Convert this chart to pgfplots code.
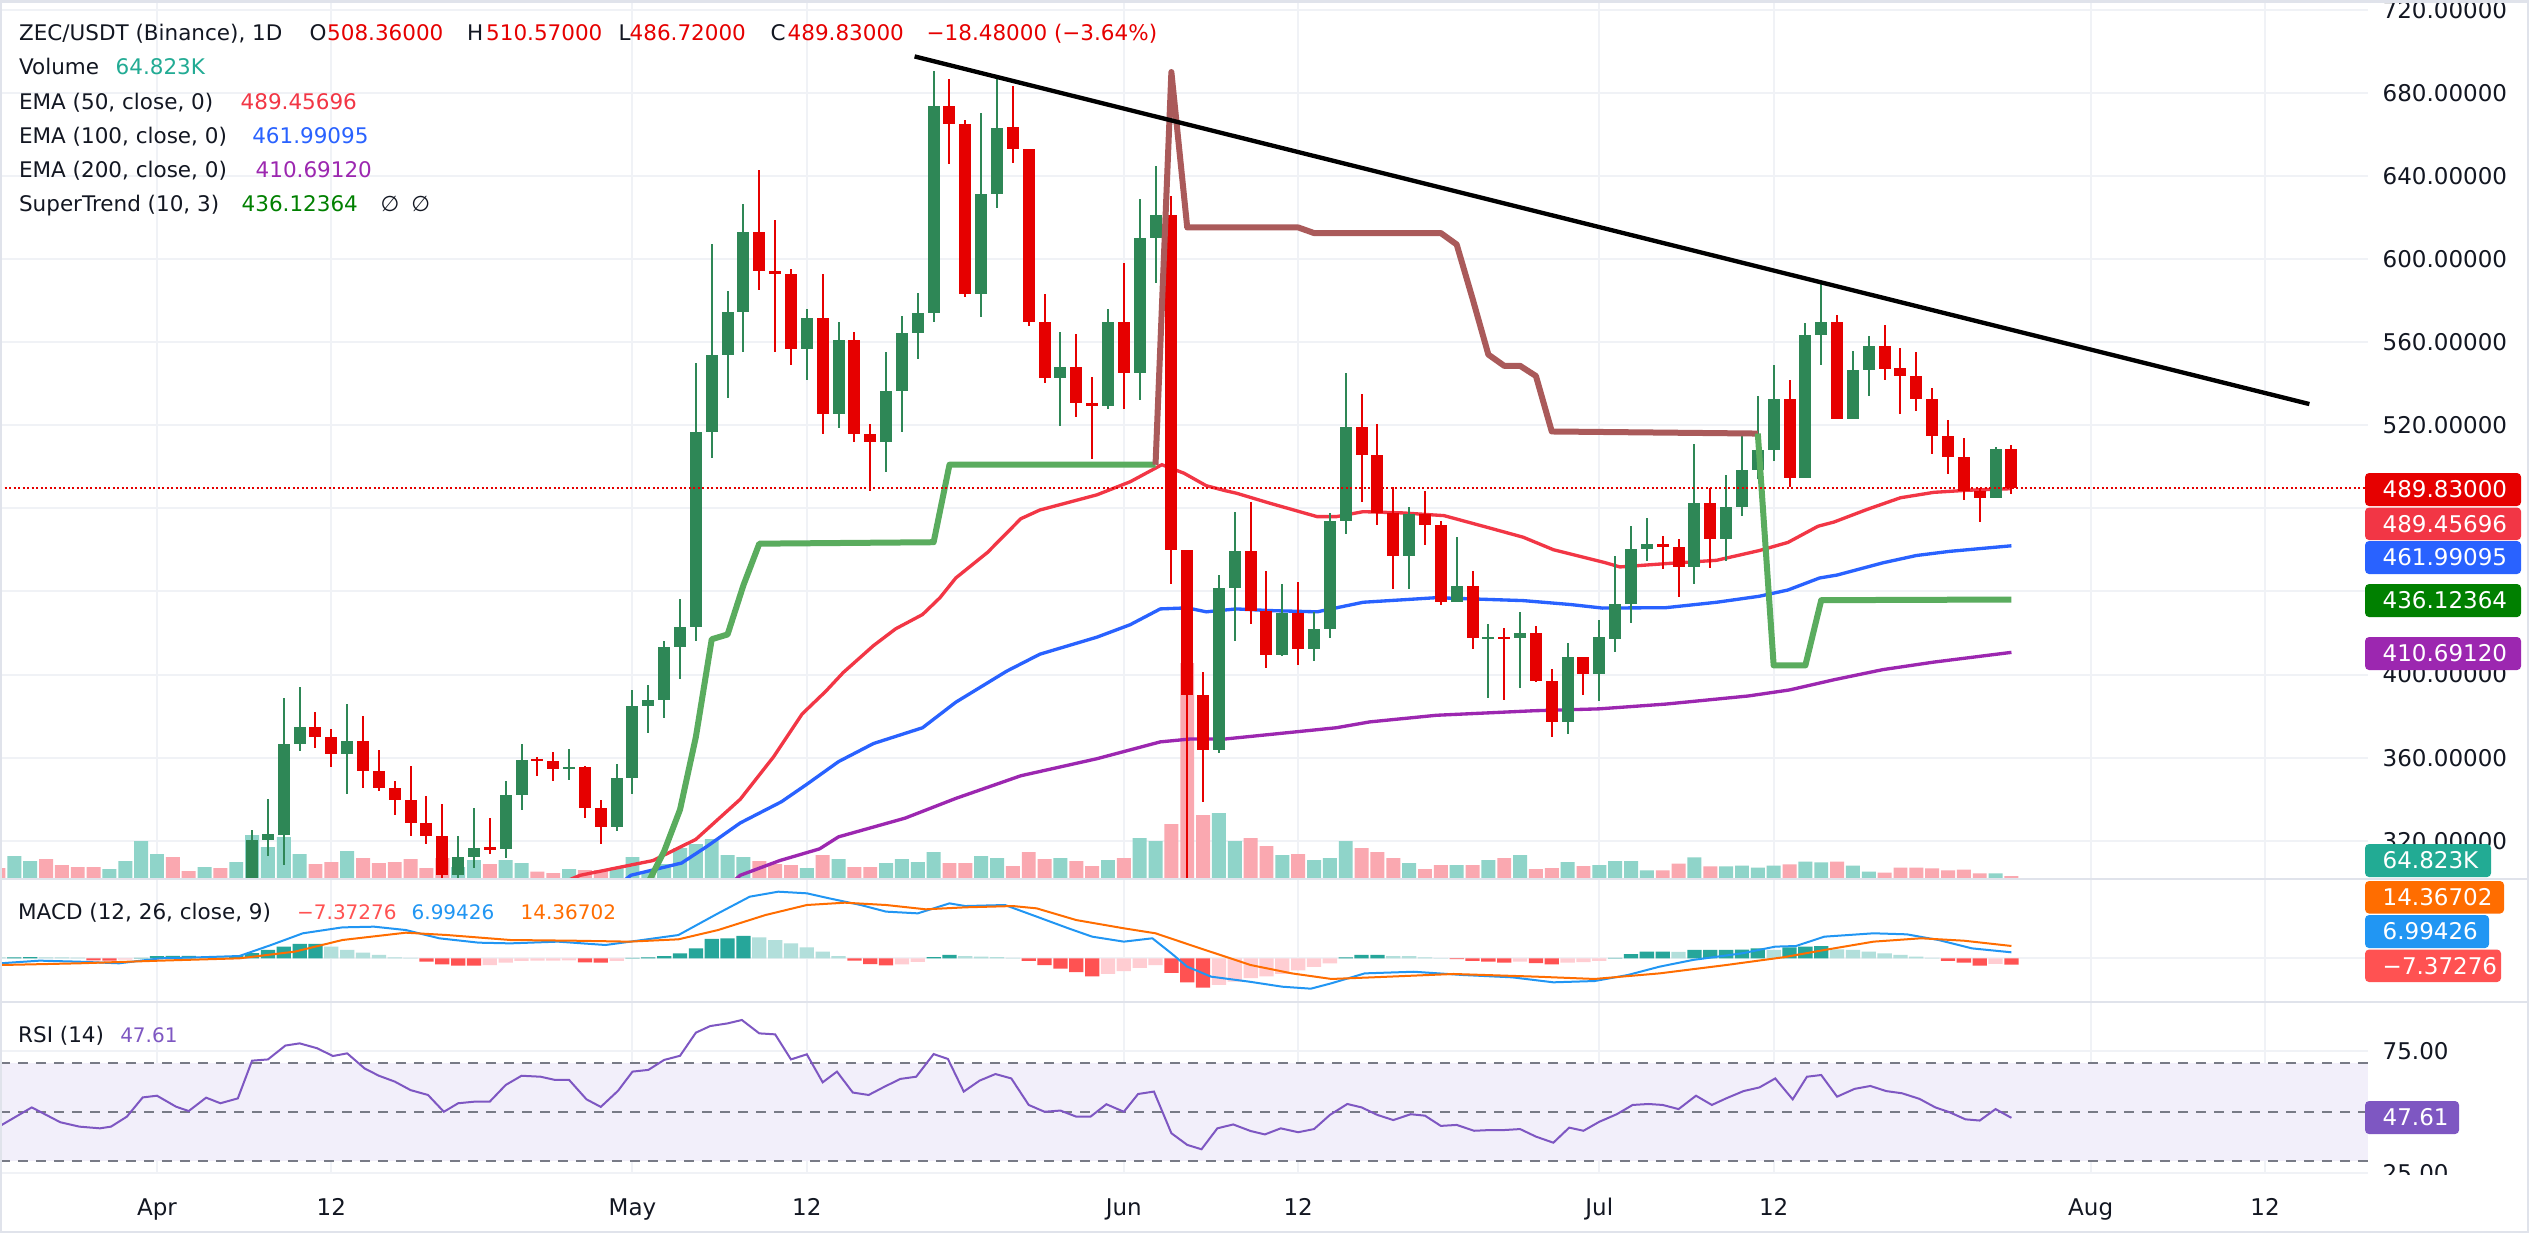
\documentclass[border=0pt]{standalone}
\usepackage{pgfplots}
\pgfplotsset{compat=1.18}
\usepackage{pgfplotstable}
\usepackage{fontspec}
\setmainfont{DejaVu Sans}
\newfontfamily\dvs{DejaVu Sans}
\newcommand\lf{\dvs\fontsize{6.45pt}{7.7pt}\selectfont}
\newcommand\smf{\dvs\fontsize{6.0pt}{7.2pt}\selectfont}
\newcommand\tf{\dvs\fontsize{6.9pt}{8.2pt}\selectfont}
\definecolor{txt}{RGB}{19,23,34}
\definecolor{cup}{RGB}{46,135,86}
\definecolor{cdn}{RGB}{230,0,0}
\definecolor{vup}{RGB}{143,212,201}
\definecolor{vdn}{RGB}{250,168,176}
\definecolor{ema50}{RGB}{242,54,69}
\definecolor{ema100}{RGB}{41,98,255}
\definecolor{ema200}{RGB}{156,39,176}
\definecolor{stup}{RGB}{90,172,94}
\definecolor{stdn}{RGB}{170,90,90}
\definecolor{stg}{RGB}{0,128,0}
\definecolor{gridc}{RGB}{240,242,246}
\definecolor{sepc}{RGB}{224,227,235}
\definecolor{macdc}{RGB}{33,150,243}
\definecolor{sigc}{RGB}{255,109,0}
\definecolor{hT}{RGB}{38,166,154}
\definecolor{ht}{RGB}{178,223,219}
\definecolor{hR}{RGB}{255,82,82}
\definecolor{hr}{RGB}{255,205,210}
\definecolor{rsic}{RGB}{126,87,194}
\definecolor{rsibg}{RGB}{242,239,250}
\definecolor{dashc}{RGB}{120,123,134}
\definecolor{volt}{RGB}{34,171,148}

\pgfplotstableread{
d O H L C
6 300 325 296 320.3
7 320.3 340 312.8 323.2
8 323 388.5 308.5 366.4
9 366.4 393.8 363.2 375
12 361.6 386 342.4 367.8
19 303.5 322.5 299 312.3
20 312.3 336 306.8 316.6
22 316 349 311.6 342.2
23 342.2 366.7 335 359
26 354.7 364.4 349.5 355.6
29 326.8 357 324.5 350.2
30 350.2 392.8 342.7 384.9
31 384.9 394.8 371.7 387.6
32 387.6 416.4 379 413.2
33 413.2 436.3 397.7 422.7
34 422.7 550.2 416 516.8
35 516.8 607.3 504 554
36 554 584.7 533.2 574.7
37 574.7 626.4 555.4 613
41 556.5 575.8 541.8 571.5
43 525.4 569.8 518.6 560.8
46 511.8 555.4 497.7 536.3
47 536.3 572.5 516.7 564.4
48 564.4 583.7 552.1 574.2
49 574.2 690.6 569.8 673.7
52 583.1 670.2 572.2 631.3
53 631.3 687.9 624.5 662.9
57 542.6 564.9 519.5 547.8
60 529.5 575.8 527.6 569.5
62 545 628.8 532.2 610.3
63 610.3 644.6 588.6 621.2
67 363.5 447.9 362.2 441.6
68 441.6 478.4 416.1 459.6
71 409.3 443.8 409 429.4
73 412.5 430.2 406.5 422
74 422 477.8 417.4 473.7
75 473.7 545.3 467.8 519.2
79 456.9 480.6 441.1 477.3
82 435.1 466.4 435.1 442.5
84 417.4 424.2 388.9 418
86 417.4 430.2 393.5 420.2
89 377.2 415.3 371.2 408.4
91 400.3 426.1 387.2 418
92 417 457 411 434
93 434 471.6 425 460.3
94 460.3 475.5 454.8 462.8
97 451.8 511.2 443.6 482.8
99 465.2 495.9 454.9 480.8
100 480.8 515.7 476.5 498.5
101 498.5 534.3 494 508.3
102 508.3 549 502.8 532.8
104 494.5 569 494.5 563.5
105 563.5 588.2 548.8 569.8
107 523 555.9 523 546.7
108 546.7 562.8 534.3 558.3
116 485 509.3 485 508.4
}\upc

\pgfplotstableread{
d O H L C
10 375 381.8 364.5 370
11 370 374 355.4 361.6
13 367.8 380.3 345.3 353.7
14 353.7 363.5 344 345.5
15 345.5 349 332.5 339.7
16 339.7 355.8 322.4 328.4
17 328.4 341.5 318.4 322.5
18 322.5 337.7 299 303.5
21 316.8 331 313.6 315.9
24 359.4 360.3 351.3 358.6
25 358.6 362.6 349 354.7
27 355.6 355.8 331 336
28 336 339.8 318.4 326.8
38 613 643 584.9 594
39 594 618.9 555.4 593
40 593 595 549 556.5
42 571.5 592.7 516 525.4
44 560.8 564.9 511.8 515.9
45 515.9 520.8 488.2 511.8
50 673.7 686.8 645.7 665
51 665 667 581.8 583.1
54 663.4 683.3 646.3 652.8
55 652.8 652.8 567.6 569.5
56 569.5 583.4 540.4 542.6
58 547.8 564.1 524.1 530.6
59 530.6 543.1 503.7 529.5
61 569.5 598.1 527.6 545
64 621.2 630.2 443.8 460.1
65 460.1 460.1 290 390.2
66 390.2 401.1 338.5 363.5
69 459.6 483.3 424.2 430.8
70 430.8 450 403 409.3
72 429.4 444.6 404.4 412.5
76 519.2 535 483.3 505.8
77 505.8 520.8 471.8 477.8
78 477.8 490.1 441.1 456.9
80 477.3 488.2 462.3 471.8
81 471.8 473.7 433.7 435.1
83 442.5 449.8 412.5 417.4
85 418 422.6 388 417.4
87 420.2 423.4 396.2 396.7
88 396.7 402.5 369.8 377.2
90 408.4 408.4 390.2 400.3
95 462.8 466.5 451 461.6
96 461.6 465.2 437.1 451.8
98 482.8 490 451.4 465.2
103 532.8 541.6 490.2 494.5
106 569.8 573 523 523
109 558.3 568.2 541.6 547.3
110 547.5 557.3 525.3 543.5
111 543.5 555.5 527 532.5
112 532.5 538 506 515
113 515 522.5 496.5 504.6
114 504.6 514 484 488.5
115 488.5 490 473.5 485
117 508.36 510.57 486.72 489.83
}\dnc

\pgfplotstableread{
d v
-9 23
-8 18
-3 10
-2 18
-1 38
0 25
3 12
5 17
6 44
7 32
8 42
9 25
12 28
19 12
20 19
22 19
23 16
26 10
29 11
30 22
31 7.5
32 15
33 31
34 35
35 40
36 24
37 22
41 11
43 20
46 16
47 20
48 17
49 27
52 23
53 21
57 21
60 19
62 41
63 38
67 66
68 38
71 24
73 19
74 21
75 38
79 16
82 14
84 19
86 24
89 17
91 14
92 18
93 18
94 8.6
97 21.6
99 12.7
100 13.5
101 11.4
102 13.5
104 17.5
105 16.7
107 13.5
108 7.3
116 5.7
}\volu

\pgfplotstableread{
d v
-10 11
-7 20
-6 14
-5 12
-4 12
1 22
2 8
4 11
10 15
11 17
13 21
14 16
15 17
16 20
17 11
18 21
21 15
24 7.5
25 6
27 9
28 9
38 18
39 15
40 14
42 24
44 12
45 12
50 16
51 16
54 13
55 27
56 20
58 18
59 13
61 21
64 55
65 216
66 64
69 41
70 33
72 25
76 31
77 27
78 21
80 10
81 14
83 14
85 21
87 10
88 11
90 13
95 8.6
96 15.5
98 12.7
103 14.7
106 17.5
109 6.5
110 11.4
111 11.4
112 10.6
113 8.6
114 9.4
115 5.7
117 3
}\vold

\begin{document}
\begin{tikzpicture}
\useasboundingbox (0,0) rectangle (759pt,-375.9pt);
\fill[white] (0,0) rectangle (759pt,-375.9pt);

% ---------- main grid + price labels ----------
\begin{axis}[at={(0pt,-0.6pt)}, anchor=north west, scale only axis,
  width=710.4pt, height=263.1pt,
  xmin=-9.905, xmax=139.5, ymin=301.6, ymax=723.7,
  axis line style={draw=none}, tick style={draw=none}, major tick length=0pt,
  xtick={0,11,30,41,61,72,91,102,122,133}, xticklabels={,,,,,,,,,},
  ytick={320,360,400,440,480,520,560,600,640,680,720},
  yticklabels={320.00000,360.00000,400.00000,{},{},520.00000,560.00000,600.00000,640.00000,680.00000,720.00000},
  yticklabel pos=right,
  yticklabel style={font=\tf, text=txt, anchor=west, inner sep=0pt, xshift=4.2pt},
  grid=major, grid style={gridc, line width=0.6pt}]
\addplot[draw=none] coordinates {(0,400)};
\end{axis}

% ---------- volume ----------
\begin{axis}[at={(0pt,-0.6pt)}, anchor=north west, scale only axis,
  width=710.4pt, height=263.1pt,
  xmin=-9.905, xmax=139.5, ymin=0, ymax=877, hide axis]
\addplot[ybar, bar width=0.88, bar shift=0pt, fill=vup, draw=none] table[x=d,y=v]{\volu};
\addplot[ybar, bar width=0.88, bar shift=0pt, fill=vdn, draw=none] table[x=d,y=v]{\vold};
\end{axis}

% ---------- price plots ----------
\begin{axis}[at={(0pt,-0.6pt)}, anchor=north west, scale only axis,
  width=710.4pt, height=263.1pt,
  xmin=-9.905, xmax=139.5, ymin=301.6, ymax=723.7, hide axis, clip=true]
% EMA 200
\addplot[ema200, line width=1pt] coordinates {(36,298) (36.8,303.4) (39.3,310.5) (41.8,316.1) (43,321.9) (47.2,330.9) (50.4,340.4) (54.5,351.3) (59.3,359.5) (63.3,367.6) (65.2,369) (67.4,369) (74.4,374.4) (76.5,377.2) (80.7,380.4) (86.9,382.6) (91,383.5) (95.2,385.8) (100.4,389.7) (103,392.6) (105.8,397.5) (108.9,402.4) (112.1,406) (117,410.69)};
% EMA 100
\addplot[ema100, line width=1pt] coordinates {(29,298) (29.9,303.4) (33.1,309.3) (34.7,317.3) (36.8,328.6) (39.4,338.8) (41,347.2) (43,358.1) (45.2,366.8) (48.3,374.4) (50.4,386.7) (53.6,401.6) (55.7,409.8) (59.3,418) (61.4,424) (63.3,431.6) (65,432.1) (66.2,430.2) (68.1,431.6) (70.2,430.8) (73.2,430.2) (76.1,434.8) (80.7,437) (86.2,435.6) (89.2,433.7) (91.2,432) (95.2,432.2) (98.4,434.8) (101.1,437.7) (102.9,440.7) (104.9,446.5) (106,447.9) (108.9,453.8) (111,457.3) (113.1,459.3) (117,461.99)};
% EMA 50
\addplot[ema50, line width=1pt] coordinates {(25,298) (26.7,303.4) (31.3,310.5) (34,320.7) (36.8,340) (38.9,360.4) (40.7,381) (42.2,392) (43.3,401) (45.2,413.9) (46.6,422) (48.3,428.9) (49.4,437) (50.4,446.5) (52.4,458.8) (54.5,475) (55.7,479.2) (59.3,486.5) (61.4,492.8) (63.4,501) (64.8,496.9) (66.2,490.9) (67.4,488.5) (68.1,487.3) (70.2,482.5) (73.2,476) (74.4,476) (76.1,478.4) (78.6,477.8) (81.2,476.5) (84.1,470.5) (86.2,466.1) (88.1,460.1) (91.3,454) (92.3,451.8) (95.2,453.4) (98.4,455) (101.1,459.7) (102.9,463.6) (104.8,471.4) (105.8,473.4) (107.9,479.5) (110,485.1) (112.1,487.7) (114.2,488.7) (117,489.46)};
% candles up
\addplot[draw=none, mark=none, error bars/.cd, y dir=both, y explicit, error mark=none,
  error bar style={draw=cup, line width=0.6pt}]
  table[x=d, y expr={(\thisrow{H}+\thisrow{L})/2}, y error expr={(\thisrow{H}-\thisrow{L})/2}] {\upc};
\addplot[draw=none, mark=none, error bars/.cd, y dir=both, y explicit, error mark=none,
  error bar style={draw=cup, line width=3.6pt}]
  table[x=d, y expr={(\thisrow{O}+\thisrow{C})/2}, y error expr={max(abs(\thisrow{C}-\thisrow{O})/2,0.6)}] {\upc};
% candles down
\addplot[draw=none, mark=none, error bars/.cd, y dir=both, y explicit, error mark=none,
  error bar style={draw=cdn, line width=0.6pt}]
  table[x=d, y expr={(\thisrow{H}+\thisrow{L})/2}, y error expr={(\thisrow{H}-\thisrow{L})/2}] {\dnc};
\addplot[draw=none, mark=none, error bars/.cd, y dir=both, y explicit, error mark=none,
  error bar style={draw=cdn, line width=3.6pt}]
  table[x=d, y expr={(\thisrow{O}+\thisrow{C})/2}, y error expr={max(abs(\thisrow{C}-\thisrow{O})/2,0.6)}] {\dnc};
% SuperTrend
\addplot[stup, line width=1.8pt, line join=round] coordinates {(30,285) (31.2,303) (32,315) (33,335) (34,370) (35,417) (36,419.3) (37,443) (38,463) (49,463.7) (50,501) (63,501)};
\addplot[stdn, line width=1.8pt, line join=round] coordinates {(63,501) (64,690) (65,615.2) (72,615.2) (73,612.5) (81,612.5) (82,607) (83,581) (84,554) (85,548.6) (86,548.6) (87,543.7) (88,517) (101,516)};
\addplot[stup, line width=1.8pt, line join=round] coordinates {(101,516) (102,404.4) (104,404.4) (105,435.8) (117,436.12)};
% trend line
\addplot[black, line width=1.3pt] coordinates {(47.8,697.5) (135.8,530.2)};
% last price line
\addplot[cdn, line width=0.6pt, dash pattern=on 0.6pt off 0.75pt] coordinates {(-9.905,489.83) (139.5,489.83)};
\end{axis}

% ---------- MACD ----------
\begin{axis}[at={(0pt,-264pt)}, anchor=north west, scale only axis,
  width=710.4pt, height=36.51pt,
  xmin=-9.905, xmax=139.5, ymin=-50.47, ymax=91.05,
  axis line style={draw=none}, tick style={draw=none}, major tick length=0pt,
  xtick={0,11,30,41,61,72,91,102,122,133}, xticklabels={,,,,,,,,,},
  ytick={0}, yticklabels={{}},
  grid=major, grid style={gridc, line width=0.6pt}]
\addplot[ybar, bar width=0.9, bar shift=0pt, fill=hT, draw=none] coordinates {(-9,1.2) (-8,1.5) (-1,0.5) (0,2.7) (1,2.8) (2,3.0) (5,2.5) (6,6) (7,9.7) (8,13.6) (9,16.7) (10,16.8) (30,0.5) (31,1.2) (32,2.7) (33,5.8) (34,11.6) (35,22.5) (36,23.3) (37,26) (49,1.5) (50,3.9) (75,1.2) (76,3.9) (77,4.0) (92,0.5) (93,5) (94,7.8) (95,7.9) (97,9.7) (98,9.8) (99,9.9) (100,10) (101,11.6) (103,12.8) (104,13.6) (105,14.3)};
\addplot[ybar, bar width=0.9, bar shift=0pt, fill=ht, draw=none] coordinates {(-10,1.0) (-7,1.2) (-6,1.0) (-5,0.8) (3,1.8) (4,1.5) (11,13.6) (12,9.7) (13,6.6) (14,3.9) (15,1.2) (16,0.5) (38,24.4) (39,21.3) (40,17.4) (41,12.8) (42,7.8) (43,2.7) (51,2.7) (52,2) (53,1.5) (54,0.5) (78,2.7) (79,2.5) (80,1.2) (81,0.3) (96,7.5) (102,9.7) (106,10.5) (107,9.7) (108,7.8) (109,5.8) (110,3.9) (111,1.9) (112,0.5)};
\addplot[ybar, bar width=0.9, bar shift=0pt, fill=hR, draw=none] coordinates {(-4,-2.5) (-3,-2.7) (17,-3.9) (18,-7) (19,-8.5) (20,-8.6) (27,-4.7) (28,-5) (44,-2.7) (45,-6.6) (46,-8.1) (55,-3) (56,-8) (57,-12) (58,-16) (59,-21) (64,-17) (65,-28) (66,-34) (82,-1) (83,-3.1) (84,-3.9) (85,-5) (87,-5.5) (88,-7) (113,-3.1) (114,-5) (115,-8.5) (117,-7.37)};
\addplot[ybar, bar width=0.9, bar shift=0pt, fill=hr, draw=none] coordinates {(-2,-1.5) (21,-7.8) (22,-5) (23,-3.1) (24,-2.7) (25,-2.6) (26,-2.5) (29,-3) (47,-7) (48,-4) (60,-18) (61,-15) (62,-11) (63,-8) (67,-31) (68,-27) (69,-23) (70,-21) (71,-18) (72,-14) (73,-10) (74,-6) (86,-3.9) (89,-5) (90,-4.5) (91,-3.1) (116,-6.5)};
\addplot[macdc, line width=0.6pt] coordinates {(-9.9,-5.8) (-7.4,-2.7) (-4.9,-3.9) (-2.4,-5.8) (0.2,0) (2.7,1.2) (5.2,2.7) (7.2,15.5) (9.2,29.1) (11.7,36) (13.7,36.8) (15.7,32.9) (17.8,23.3) (20.3,18.2) (22.3,17.4) (25.3,19.4) (28.3,15.5) (30.3,20.5) (32.9,27.1) (35.4,52.3) (37.4,71.7) (39.2,77.5) (41,75.6) (42.4,69.8) (44.4,62) (46,54.3) (48,52.3) (50,63.9) (51,60.8) (53.5,62) (55.5,48.5) (57.5,34.9) (59,25.2) (61,19.4) (62.8,23.3) (64,5.8) (65,-9.7) (66.5,-21.3) (68.9,-27.1) (71,-33) (72.8,-35.3) (74.1,-29) (76.2,-17.5) (79.3,-15.6) (82.4,-19.4) (85.5,-22.1) (88.1,-27.9) (90.7,-26.4) (92.8,-19.4) (94.8,-9.7) (96.9,-1.9) (100,5.8) (102.1,13.6) (103.4,14.3) (105.2,25.2) (108.3,29.1) (110.4,27.9) (112.4,21.3) (114.5,11.6) (117,6.99)};
\addplot[sigc, line width=0.6pt] coordinates {(-9.9,-7.8) (-4.9,-5.8) (0.2,-2.7) (5.2,0) (8.7,7.8) (11.7,21.3) (15.7,29.8) (18.3,27.1) (22.3,21.3) (26.3,20.5) (29.8,19.4) (32.9,22.1) (35.4,32.9) (38.4,50.4) (41,62) (43.4,64.7) (46,62) (48.5,57) (51,59.3) (54,60.8) (55.5,58.1) (58,44.5) (61,34.9) (63,29.1) (65.5,13.6) (69,-7.8) (71.6,-17.5) (74.1,-24) (76.7,-22.1) (81.8,-18.2) (87,-21.3) (90.7,-24) (94.8,-17.5) (99,-7.8) (102.6,1.2) (105.2,9.7) (108.3,19.4) (111.3,23.3) (114,20.5) (117,14.37)};
\end{axis}

% ---------- RSI ----------
\begin{axis}[at={(0pt,-300.75pt)}, anchor=north west, scale only axis,
  width=710.4pt, height=51.15pt,
  xmin=-9.905, xmax=139.5, ymin=24.95, ymax=94.97,
  axis line style={draw=none}, tick style={draw=none}, major tick length=0pt,
  xtick={0,11,30,41,61,72,91,102,122,133},
  xticklabels={Apr,12,May,12,Jun,12,Jul,12,Aug,12},
  xticklabel style={font=\tf, text=txt, anchor=base, inner sep=0pt, yshift=-12.6pt},
  ytick={25,75}, yticklabels={25.00,75.00},
  yticklabel pos=right,
  yticklabel style={font=\tf, text=txt, anchor=west, inner sep=0pt, xshift=4.2pt},
  grid=major, grid style={gridc, line width=0.6pt}]
\addplot[draw=none, fill=rsibg] coordinates {(-9.905,30) (139.5,30) (139.5,70) (-9.905,70)} -- cycle;
\addplot[dashc, line width=0.6pt, dash pattern=on 3pt off 2.4pt] coordinates {(-9.905,70) (139.5,70)};
\addplot[dashc, line width=0.6pt, dash pattern=on 3pt off 2.4pt] coordinates {(-9.905,50) (139.5,50)};
\addplot[dashc, line width=0.6pt, dash pattern=on 3pt off 2.4pt] coordinates {(-9.905,30) (139.5,30)};
\addplot[rsic, line width=0.6pt] coordinates {(-9.9,44.3) (-7.9,51.9) (-6.1,45.8) (-4.9,44) (-3.6,43.3) (-2.9,44) (-1.9,48.1) (-0.9,56) (0,56.7) (1.2,52.2) (2,50.4) (3.1,55.9) (4,53.6) (5.1,55.6) (6,71.1) (7,71.6) (8.1,77.3) (9,78.2) (10.1,76.2) (11.1,73) (12,74.1) (13.1,67.9) (14,64.9) (15,62.5) (16,59) (17.1,57) (18.1,50.1) (19,53.6) (20.1,54.3) (21,54.3) (22,61.1) (23,64.9) (24.2,64.5) (25.1,63.2) (26,63.2) (27.1,55.2) (28,52.1) (29.1,58.8) (30,66.6) (31,67.3) (32,71.4) (33,73.1) (34,82.6) (34.9,85.3) (36,86.4) (36.9,87.8) (38,82.3) (39,81.9) (40,71.6) (41,73.7) (42,62.2) (42.9,66.6) (43.9,58) (44.9,57) (45.9,60.4) (46.9,63.6) (47.9,64.5) (49,73.8) (49.9,71.8) (50.9,58.4) (51.9,62.9) (52.9,65.6) (53.9,63.8) (55,52.9) (56,50.1) (57,50.6) (58,48.1) (58.9,48.1) (59.9,53.2) (61,50.1) (61.9,57.4) (62.9,58.4) (64,41.3) (65,36.5) (65.9,34.7) (66.9,43.3) (67.9,44.9) (69,42.2) (69.9,40.8) (70.9,43.3) (72,41.7) (73,43) (74,48.8) (75.1,53.3) (76,51.9) (77,48.8) (78,46.7) (79.1,49.1) (80,48.5) (81,44.3) (82,44.7) (83.1,42.3) (84.1,42.6) (85,42.6) (86,43) (87,39.9) (88.1,37.4) (89.1,43.6) (90,42.3) (91,46) (92.1,49.1) (93.1,52.9) (94.1,53.3) (95,52.9) (96,51.2) (97.1,56.7) (98.1,52.9) (99,55.6) (100.1,58.6) (101.1,60.1) (102.1,63.8) (103.2,55.2) (104.1,64.5) (105,65.2) (106,56.3) (107.1,59.5) (108.1,60.7) (109.1,58.6) (110.1,57.7) (111.2,55.4) (112.2,51.9) (113.1,49.9) (114.1,47) (115,46.5) (116,51.2) (117,47.61)};
\end{axis}

% ---------- decorations in pixel units ----------
\begin{scope}[x=0.3pt, y=-0.3pt]
\fill[white] (2369,1175) rectangle (2526,1231);
\draw[gridc, line width=0.6pt] (0,1173) -- (2368,1173);
\draw[sepc, line width=0.7pt] (0,879) -- (2528,879);
\draw[sepc, line width=0.7pt] (0,1001.8) -- (2528,1001.8);
\draw[sepc, line width=0.7pt] (1,1.5) rectangle (2528,1232);

% badges
\fill[cdn, rounded corners=1.2pt] (2365,473) rectangle (2521,506);
\node[anchor=west, inner sep=0, text=white, font=\tf] at (2382,489.5) {489.83000};
\fill[ema50, rounded corners=1.2pt] (2365,507.5) rectangle (2521,540);
\node[anchor=west, inner sep=0, text=white, font=\tf] at (2382,523.8) {489.45696};
\fill[ema100, rounded corners=1.2pt] (2365,541) rectangle (2521,574);
\node[anchor=west, inner sep=0, text=white, font=\tf] at (2382,557.5) {461.99095};
\fill[stg, rounded corners=1.2pt] (2365,584) rectangle (2521,617);
\node[anchor=west, inner sep=0, text=white, font=\tf] at (2382,600.5) {436.12364};
\fill[ema200, rounded corners=1.2pt] (2365,637) rectangle (2521,670);
\node[anchor=west, inner sep=0, text=white, font=\tf] at (2382,653.5) {410.69120};
\fill[volt, rounded corners=1.2pt] (2365,844) rectangle (2491,877);
\node[anchor=west, inner sep=0, text=white, font=\tf] at (2382,860.5) {64.823K};
\fill[sigc, rounded corners=1.2pt] (2365,881) rectangle (2504,913.5);
\node[anchor=west, inner sep=0, text=white, font=\tf] at (2382,897.2) {14.36702};
\fill[macdc, rounded corners=1.2pt] (2365,915) rectangle (2489,948);
\node[anchor=west, inner sep=0, text=white, font=\tf] at (2382,931.5) {6.99426};
\fill[hR, rounded corners=1.2pt] (2365,949.5) rectangle (2501,982);
\node[anchor=west, inner sep=0, text=white, font=\tf] at (2382,965.8) {−7.37276};
\fill[rsic, rounded corners=1.2pt] (2365,1101) rectangle (2459,1134);
\node[anchor=west, inner sep=0, text=white, font=\tf] at (2382,1117.5) {47.61};

% legend lines
\begin{scope}[every node/.style={anchor=base west, inner sep=0, font=\lf, text=txt}]
\node at (18.4,40) {ZEC/USDT (Binance), 1D};
\node at (309,40) {O}; \node[text=cdn] at (326.5,40) {508.36000};
\node at (466.5,40) {H}; \node[text=cdn] at (485.5,40) {510.57000};
\node at (618,40) {L}; \node[text=cdn] at (629,40) {486.72000};
\node at (770,40) {C}; \node[text=cdn] at (787,40) {489.83000};
\node[text=cdn] at (926,40) {−18.48000 (−3.64\%)};
\node at (18.4,74) {Volume}; \node[text=volt] at (115,74) {64.823K};
\node at (18.4,109) {EMA (50, close, 0)}; \node[text=ema50] at (240,109) {489.45696};
\node at (18.4,143.3) {EMA (100, close, 0)}; \node[text=ema100] at (251.6,143.3) {461.99095};
\node at (18.4,177.3) {EMA (200, close, 0)}; \node[text=ema200] at (255,177.3) {410.69120};
\node at (18.4,211) {SuperTrend (10, 3)}; \node[text=stg] at (241,211) {436.12364};
\node at (380,211) {∅}; \node at (410.6,211) {∅};
\node at (17.5,919.3) {MACD (12, 26, close, 9)};
\node[font=\smf, text=hR] at (296.5,919.3) {−7.37276};
\node[font=\smf, text=macdc] at (411,919.3) {6.99426};
\node[font=\smf, text=sigc] at (520,919.3) {14.36702};
\node at (17.5,1042.7) {RSI (14)};
\node[font=\smf, text=rsic] at (119.6,1042.7) {47.61};
\end{scope}
\end{scope}
\end{tikzpicture}
\end{document}
